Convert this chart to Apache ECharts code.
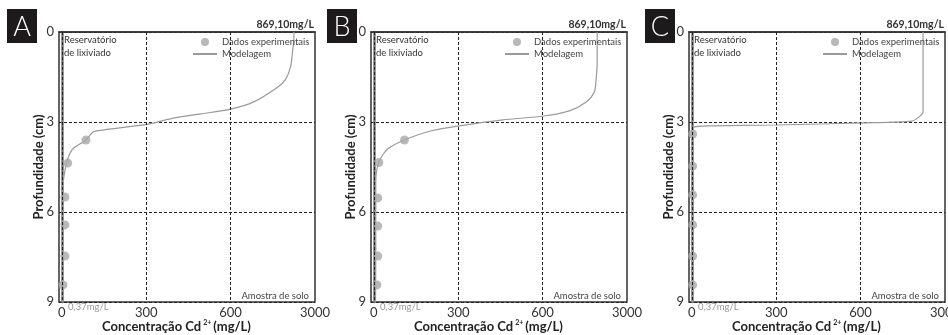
<!DOCTYPE html>
<html>
<head>
<meta charset="utf-8">
<script src="https://cdn.jsdelivr.net/npm/echarts@6/dist/echarts.min.js"></script>
<style>
html,body{margin:0;padding:0;background:#fff;}
#container{width:948px;height:335px;}
</style>
</head>
<body>
<div id="container"></div>
<script>
// eixos
var depthTicks = [0, 3, 6, 9];
var concTicks = [0, 300, 600, 900];
var concLabels = ['0', '300', '600', '3000'];
var concGrid = [0, 300, 600];
var panelNames = ['A', 'B', 'C'];

// modelagem (mg/L , cm)
var modelA_x = [825, 825, 821, 814, 796, 768, 682, 600, 493, 396, 307, 146, 111, 86, 39, 21, 11, 4, 4, 3];
var modelA_y = [0, 0.23, 0.57, 1.13, 1.57, 1.83, 2.33, 2.57, 2.73, 2.87, 3.07, 3.27, 3.33, 3.6, 3.9, 4.23, 4.63, 5.13, 7.5, 9];
var modelB_x = [794, 794, 790, 784, 755, 695, 604, 459, 304, 201, 109, 49, 18, 7, 7, 6];
var modelB_y = [0, 1.0, 1.6, 2.0, 2.33, 2.63, 2.8, 2.93, 3.13, 3.3, 3.6, 3.9, 4.33, 5.0, 7.5, 9];
var modelC_x = [822, 822, 822, 808, 783, 605, 299, 71, 7, 2, 2];
var modelC_y = [0, 1.5, 2.67, 2.83, 2.97, 3.03, 3.1, 3.13, 3.17, 3.33, 9];

// dados experimentais
var dotsA_x = [86, 21, 11, 11, 11, 4];
var dotsA_y = [3.6, 4.37, 5.5, 6.43, 7.47, 8.43];
var dotsB_x = [109, 18, 14, 14, 14, 11];
var dotsB_y = [3.6, 4.35, 5.53, 6.47, 7.47, 8.43];
var dotsC_x = [3, 3, 3, 3, 3, 3];
var dotsC_y = [3.4, 4.47, 5.43, 6.43, 7.47, 8.43];

var maxLabel = '869,10mg/L';
var minLabel = '0,37mg/L';

function pairs(xs, ys) {
	var out = [];
	for (var i = 0; i < xs.length; i++) {
		out.push([xs[i], ys[i]]);
	}
	return out;
}

var models = [pairs(modelA_x, modelA_y), pairs(modelB_x, modelB_y), pairs(modelC_x, modelC_y)];
var dots = [pairs(dotsA_x, dotsA_y), pairs(dotsB_x, dotsB_y), pairs(dotsC_x, dotsC_y)];

var fontName = 'Lato, "Open Sans", sans-serif';
var gridLeft = [59, 371, 689];
var boxLeft = [7, 327, 645];
var gridTop = 32, gridW = 256, gridH = 270;

var grids = [], xAxes = [], yAxes = [], series = [], legends = [], graphics = [];

for (var p = 0; p < 3; p++) {
	var L = gridLeft[p];
	grids.push({
		left: L, top: gridTop, width: gridW, height: gridH,
		outerBoundsMode: 'none', // não encolher o painel C por causa do "3000"
		show: true, borderColor: '#333', borderWidth: 1.5, backgroundColor: 'transparent'
	});
	xAxes.push({
		type: 'value', gridIndex: p, min: -10, max: 900,
		axisLine: {show: true, lineStyle: {color: '#333', width: 1.5}},
		axisTick: {show: false},
		splitLine: {show: false},
		axisLabel: {
			customValues: concTicks, margin: 4, fontSize: 13, color: '#333', fontFamily: fontName,
			formatter: function (v) { return concLabels[concTicks.indexOf(v)]; }
		}
	});
	yAxes.push({
		type: 'value', gridIndex: p, min: 0, max: 9, interval: 3, inverse: true,
		axisLine: {show: true, lineStyle: {color: '#777', width: 2.5}},
		axisTick: {show: false},
		splitLine: {show: true, lineStyle: {color: '#222', width: 1, type: [3, 2]}},
		axisLabel: {margin: 5, fontSize: 13, color: '#333', fontFamily: fontName}
	});
	series.push({
		name: 'Modelagem', type: 'line', xAxisIndex: p, yAxisIndex: p,
		data: models[p], smooth: 0.25, symbol: 'none', z: 3,
		lineStyle: {color: '#9a9a9a', width: 1.2},
		itemStyle: {color: '#9a9a9a'},
		markLine: {
			silent: true, symbol: 'none', label: {show: false},
			lineStyle: {color: '#222', width: 1, type: [3, 2]},
			data: concGrid.map(function (v) { return {xAxis: v}; })
		}
	});
	series.push({
		name: 'Dados experimentais', type: 'scatter', xAxisIndex: p, yAxisIndex: p,
		data: dots[p], symbolSize: 9, z: 4,
		itemStyle: {color: '#a8a8a8'}
	});
	legends.push({
		left: L + 128, top: 32, orient: 'vertical', itemGap: 2,
		itemWidth: 24, itemHeight: 8, selectedMode: false,
		data: [
			{name: 'Dados experimentais', icon: 'circle'},
			{name: 'Modelagem', itemStyle: {opacity: 0}}
		],
		textStyle: {fontSize: 9.5, color: '#444', fontFamily: fontName, padding: [0, 0, 0, 0]}
	});

	// rótulo do painel
	graphics.push({type: 'rect', left: boxLeft[p], top: 9, shape: {width: 30, height: 34}, style: {fill: '#1c1a1a'}});
	graphics.push({type: 'text', x: boxLeft[p] + 15, y: 27, style: {text: panelNames[p], fill: '#fff', font: '300 27px ' + fontName, textAlign: 'center', textVerticalAlign: 'middle'}});
	// textos dentro do gráfico
	graphics.push({type: 'text', x: L + gridW - 1, y: 25, style: {text: maxLabel, fill: '#333', font: 'bold 10.5px ' + fontName, textAlign: 'right', textVerticalAlign: 'middle'}});
	graphics.push({type: 'text', x: L + 5, y: 33, style: {text: 'Reservatório\nde lixiviado', fill: '#333', font: '9.5px ' + fontName, lineHeight: 13, textAlign: 'left', textVerticalAlign: 'top'}});
	graphics.push({type: 'text', x: L + gridW - 6, y: 296, style: {text: 'Amostra de solo', fill: '#444', font: '9.5px ' + fontName, textAlign: 'right', textVerticalAlign: 'middle'}});
	graphics.push({type: 'text', x: L + 9, y: 307, style: {text: minLabel, fill: '#999', font: '9.5px ' + fontName, textAlign: 'left', textVerticalAlign: 'middle'}});
	// nomes dos eixos
	graphics.push({
		type: 'text', x: L + 43, y: 327,
		style: {
			text: '{t|Concentração Cd}{s|2+}{t|(mg/L)}',
			textAlign: 'left', textVerticalAlign: 'middle',
			rich: {
				t: {fontSize: 13, fontWeight: 'bold', fill: '#222', fontFamily: fontName},
				s: {fontSize: 7, fontWeight: 'bold', fill: '#222', fontFamily: fontName, padding: [0, 2, 9, 2]}
			}
		}
	});
	graphics.push({
		type: 'text', x: L - 20, y: 167, rotation: Math.PI / 2,
		style: {text: 'Profundidade (cm)', fill: '#222', font: 'bold 13px ' + fontName, textAlign: 'center', textVerticalAlign: 'middle'}
	});
}

var myChart = echarts.init(document.getElementById('container'));
myChart.setOption({
	animation: false,
	backgroundColor: '#FFFFFF',
	grid: grids,
	xAxis: xAxes,
	yAxis: yAxes,
	legend: legends,
	series: series,
	graphic: graphics
});
</script>
</body>
</html>
